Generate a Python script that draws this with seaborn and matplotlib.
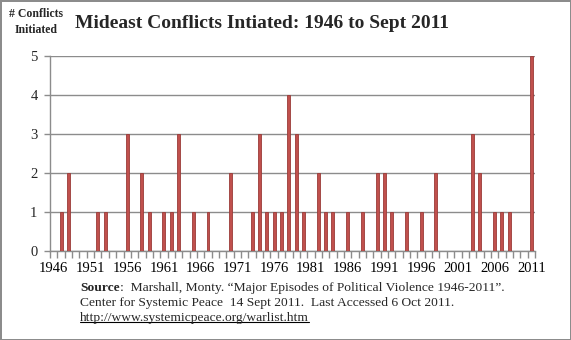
import pandas as pd
import matplotlib.pyplot as plt
import seaborn as sns
from matplotlib.lines import Line2D

years = list(range(1946, 2012))
conflicts = [
    0, 1, 2, 0, 0, 0, 1, 1, 0, 0,   # 1946-1955
    3, 0, 2, 1, 0, 1, 1, 3, 0, 1,   # 1956-1965
    0, 1, 0, 0, 2, 0, 0, 1, 3, 1,   # 1966-1975
    1, 1, 4, 3, 1, 0, 2, 1, 1, 0,   # 1976-1985
    1, 0, 1, 0, 2, 2, 1, 0, 1, 0,   # 1986-1995
    1, 0, 2, 0, 0, 0, 0, 3, 2, 0,   # 1996-2005
    1, 1, 1, 0, 0, 5,               # 2006-2011
]
title = "Mideast Conflicts Intiated: 1946 to Sept 2011"
y_label = "# Conflicts\nInitiated"
source_bold = "Source"
source_line1 = ":  Marshall, Monty. \u201cMajor Episodes of Political Violence 1946-2011\u201d."
source_line2 = "Center for Systemic Peace  14 Sept 2011.  Last Accessed 6 Oct 2011."
source_url = "http://www.systemicpeace.org/warlist.htm"

df = pd.DataFrame({"year": [str(y) for y in years], "conflicts": conflicts})

sns.set_style("white")
plt.rcParams["font.family"] = ["Liberation Serif", "DejaVu Serif"]

fig = plt.figure(figsize=(5.71, 3.40), dpi=100, edgecolor="#8c8c8c", linewidth=2)
ax = fig.add_axes([0.0876, 0.2626, 0.8494, 0.5736])

sns.barplot(data=df, x="year", y="conflicts", ax=ax, width=0.4,
            color="#C0504D", saturation=1, edgecolor="#9A3B38", linewidth=0.6,
            zorder=3)

ax.set_ylim(0, 5)
ax.set_xlim(-0.5, len(years) - 0.5)
ax.set_yticks(range(0, 6))
ax.yaxis.grid(True, color="#8c8c8c", linewidth=1)
ax.set_axisbelow(True)

# labels every 5 years, tick marks between every category
ax.set_xticks(range(0, len(years), 5))
ax.set_xticklabels([str(y) for y in years[::5]])
ax.set_xticks([i - 0.5 for i in range(len(years) + 1)], minor=True)
ax.tick_params(axis="x", which="major", length=0, pad=8, labelsize=10.5, colors="black")
ax.tick_params(axis="x", which="minor", length=5, width=1, color="#8c8c8c", direction="out")
ax.tick_params(axis="y", length=4, width=1, color="#8c8c8c", direction="out",
               labelsize=10.5, pad=5)
ax.tick_params(bottom=True, left=True, which="both")
ax.set_xlabel("")
ax.set_ylabel("")

for s in ["top", "right"]:
    ax.spines[s].set_visible(False)
for s in ["left", "bottom"]:
    ax.spines[s].set_color("#8c8c8c")
    ax.spines[s].set_linewidth(1)

fig.text(36 / 571, 1 - 22 / 340, y_label, ha="center", va="center",
         fontsize=8.5, fontweight="bold", linespacing=1.45)
fig.text(75 / 571, 1 - 23 / 340, title, ha="left", va="center",
         fontsize=14, fontweight="bold")

fs = 9.7
src = fig.text(80 / 571, 1 - 288 / 340, source_bold, ha="left", va="center",
               fontsize=fs, fontweight="bold")
ax.annotate(source_line1, xy=(1, 0.5), xycoords=src, va="center", ha="left",
            fontsize=fs, annotation_clip=False)
fig.text(80 / 571, 1 - 303 / 340, source_line2, ha="left", va="center", fontsize=fs)
url = fig.text(80 / 571, 1 - 318 / 340, source_url, ha="left", va="center", fontsize=fs)

# underline the url
fig.canvas.draw()
bb = url.get_window_extent().transformed(fig.transFigure.inverted())
fig.add_artist(Line2D([bb.x0, bb.x1], [bb.y0 + 0.005, bb.y0 + 0.005],
                      transform=fig.transFigure, color="black", linewidth=0.8))

plt.savefig("out.png", dpi=100)
